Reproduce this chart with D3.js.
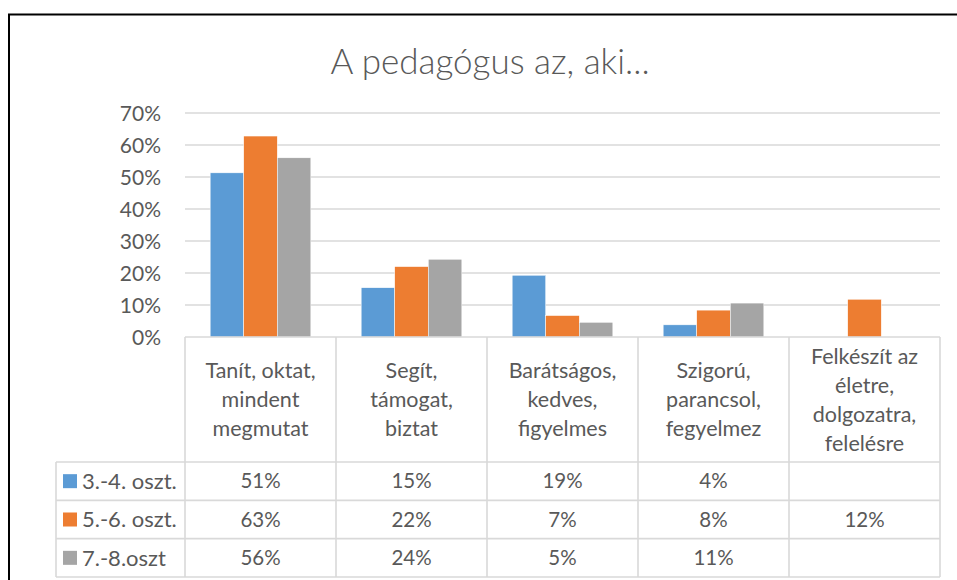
<!DOCTYPE html>
<html>
<head>
<meta charset="utf-8">
<script src="https://cdn.jsdelivr.net/npm/d3@7"></script>
<style>
  html, body { margin: 0; padding: 0; background: #fff; }
  svg { display: block; }
  text { font-family: Lato, "Open Sans", sans-serif; fill: #595959; }
</style>
</head>
<body>
<svg id="chart" width="957" height="580"></svg>
<script>
// ---- data ----
const title = "A pedagógus az, aki...";
const categories = [
  "Tanít, oktat, mindent megmutat",
  "Segít, támogat, biztat",
  "Barátságos, kedves, figyelmes",
  "Szigorú, parancsol, fegyelmez",
  "Felkészít az életre, dolgozatra, felelésre"
];
const categoryLines = [
  ["Tanít, oktat,", "mindent", "megmutat"],
  ["Segít,", "támogat,", "biztat"],
  ["Barátságos,", "kedves,", "figyelmes"],
  ["Szigorú,", "parancsol,", "fegyelmez"],
  ["Felkészít az", "életre,", "dolgozatra,", "felelésre"]
];
const seriesNames = ["3.-4. oszt.", "5.-6. oszt.", "7.-8.oszt"];
const values34 = [51.3, 15.4, 19.3, 3.8, null];
const values56 = [62.8, 22.0, 6.7, 8.4, 11.8];
const values78 = [56.0, 24.3, 4.6, 10.6, null];
const yTicks = [0, 10, 20, 30, 40, 50, 60, 70];
const colors = ["#5B9BD5", "#ED7D31", "#A5A5A5"];

const seriesValues = [values34, values56, values78];

// ---- layout ----
const svg = d3.select("#chart");
const plotL = 185, plotR = 940, plotT = 113, plotB = 337;
const headerB = 462, tableB = 577, tableL = 56;
const rowH = (tableB - headerB) / seriesNames.length;
const gridColor = "#d9d9d9";

// chart border
svg.append("rect").attr("x", 9).attr("y", 14.5).attr("width", 970).attr("height", 600)
  .attr("fill", "none").attr("stroke", "#000").attr("stroke-width", 2);

svg.append("text").attr("x", 490).attr("y", 74).attr("text-anchor", "middle")
  .style("font-size", "35px").style("font-weight", 300).text(title);

const x = d3.scaleBand().domain(categories).range([plotL, plotR]).paddingInner(0).paddingOuter(0);
const xs = d3.scaleBand().domain(seriesNames).range([0, x.bandwidth()]).paddingInner(0).paddingOuter(0.75);
const y = d3.scaleLinear().domain([0, 70]).range([plotB, plotT]);

// gridlines
svg.append("g").selectAll("line").data(yTicks.filter(t => t > 0)).join("line")
  .attr("x1", plotL).attr("x2", plotR)
  .attr("y1", d => y(d)).attr("y2", d => y(d))
  .attr("stroke", gridColor).attr("stroke-width", 1.3);

// y axis labels
const yAxis = d3.axisLeft(y).tickValues(yTicks).tickFormat(d => d + "%").tickSize(0).tickPadding(0);
const yg = svg.append("g").attr("transform", `translate(161,0)`).call(yAxis);
yg.select(".domain").remove();
yg.selectAll("text").style("font-size", "21px").style("font-family", "Lato, sans-serif").attr("fill", "#595959").attr("dy", "0.35em");

// bars
const bars = [];
seriesValues.forEach((vals, si) => {
  vals.forEach((v, ci) => { if (v != null) bars.push({ s: seriesNames[si], c: categories[ci], v, si }); });
});
svg.append("g").selectAll("rect").data(bars).join("rect")
  .attr("x", d => x(d.c) + xs(d.s))
  .attr("width", xs.bandwidth())
  .attr("y", d => y(d.v))
  .attr("height", d => y(0) - y(d.v))
  .attr("fill", d => colors[d.si])
  .attr("stroke", "#fff").attr("stroke-width", 0.5);

// data table
const tg = svg.append("g");
const line = (x1, y1, x2, y2) => tg.append("line").attr("x1", x1).attr("y1", y1).attr("x2", x2).attr("y2", y2)
  .attr("stroke", gridColor).attr("stroke-width", 1.6);
line(plotL, plotB, plotR, plotB);
categories.forEach(c => line(x(c), plotB, x(c), tableB));
line(plotR, plotB, plotR, tableB);
line(tableL, headerB, tableL, tableB);
for (let i = 0; i <= seriesNames.length; i++) line(tableL, headerB + i * rowH, plotR, headerB + i * rowH);

// category labels
const lh = 29;
categoryLines.forEach((lines, ci) => {
  const cx = x(categories[ci]) + x.bandwidth() / 2;
  const cy = (plotB + headerB) / 2;
  const t = tg.append("text").attr("text-anchor", "middle").style("font-size", "21.5px");
  lines.forEach((l, li) => {
    t.append("tspan").attr("x", cx)
      .attr("y", cy + (li - (lines.length - 1) / 2) * lh)
      .attr("dy", "0.35em").text(l);
  });
});

// legend keys + values
seriesNames.forEach((s, si) => {
  const cy = headerB + rowH * (si + 0.5);
  tg.append("rect").attr("x", 63).attr("y", cy - 7).attr("width", 14).attr("height", 14).attr("fill", colors[si]);
  tg.append("text").attr("x", 82).attr("y", cy).attr("dy", "0.35em").style("font-size", "22px").text(s);
  seriesValues[si].forEach((v, ci) => {
    if (v == null) return;
    tg.append("text").attr("x", x(categories[ci]) + x.bandwidth() / 2).attr("y", cy).attr("dy", "0.35em")
      .attr("text-anchor", "middle").style("font-size", "20.5px").text(Math.round(v) + "%");
  });
});
</script>
</body>
</html>
